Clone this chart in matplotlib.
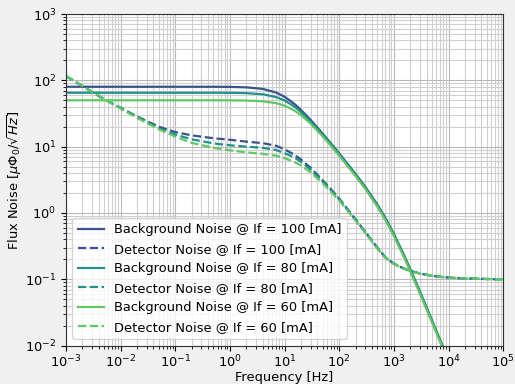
import matplotlib
matplotlib.use("Agg")
import matplotlib.pyplot as plt

plt.rcParams["font.size"] = 9.4

# frequency points [Hz]
freq = [1e-3, 2e-3, 5e-3, 1e-2, 2e-2, 5e-2, 0.1, 0.2, 0.5, 1, 2, 4, 7, 10, 15, 20, 30,
        50, 70, 100, 200, 300, 500, 700, 1e3, 1.5e3, 2e3, 3e3, 5e3, 7e3, 1e4, 2e4, 5e4, 1e5]

# background noise (solid)
bg_100 = [80, 80, 80, 80, 80, 80, 80, 80, 80, 79.6, 78.4, 74.3, 65.5, 56.6, 44.4, 35.8, 25.3,
          15.65, 11.27, 7.89, 3.86, 2.48, 1.337, 0.841, 0.484, 0.241, 0.142, 0.0655, 0.024, 0.0123, 0.0061, 0.0015, 0.00024, 0.00006]
bg_80 = [65, 65, 65, 65, 65, 65, 65, 65, 65, 64.8, 64.1, 61.6, 56.0, 49.8, 40.4, 33.2, 23.9,
         15.0, 10.85, 7.62, 3.72, 2.39, 1.29, 0.812, 0.467, 0.233, 0.137, 0.0632, 0.0232, 0.0119, 0.0059, 0.0015, 0.00024, 0.00006]
bg_60 = [50, 50, 50, 50, 50, 50, 50, 50, 50, 49.9, 49.55, 48.3, 45.25, 41.5, 35.2, 29.9, 22.2,
         14.25, 10.37, 7.31, 3.59, 2.31, 1.243, 0.782, 0.45, 0.224, 0.132, 0.0609, 0.0223, 0.0115, 0.0056, 0.0014, 0.00023, 0.00006]

# detector noise (dashed)
det_100 = [116, 82, 52, 38.5, 28.5, 20, 16.6, 14.8, 13.4, 12.7, 11.9, 11.3, 10.3, 9.1, 7.6, 6.4, 4.8,
           3.1, 2.3, 1.65, 0.8, 0.52, 0.3, 0.215, 0.172, 0.146, 0.134, 0.122, 0.113, 0.109, 0.106, 0.103, 0.101, 0.1]
det_80 = [116, 82, 52, 38, 27.8, 19, 15.2, 12.9, 11.2, 10.5, 10.0, 9.6, 8.9, 8.0, 6.9, 5.9, 4.5,
          2.95, 2.2, 1.6, 0.78, 0.51, 0.295, 0.213, 0.171, 0.146, 0.134, 0.122, 0.113, 0.109, 0.106, 0.103, 0.101, 0.1]
det_60 = [116, 82, 52, 37.5, 27.2, 18.3, 14.2, 11.4, 9.6, 8.8, 8.2, 7.8, 7.3, 6.7, 5.9, 5.2, 4.1,
          2.8, 2.1, 1.55, 0.76, 0.5, 0.29, 0.211, 0.17, 0.145, 0.133, 0.121, 0.113, 0.109, 0.106, 0.103, 0.101, 0.1]

currents = [100, 80, 60]
colors = ["#3b528b", "#21918c", "#5ec962"]

fig, ax = plt.subplots(figsize=(5.15, 3.84), dpi=100)
fig.patch.set_facecolor("#f0f0f0")
fig.subplots_adjust(left=0.128, right=0.977, top=0.9635, bottom=0.100)

for cur, col, bg, det in zip(currents, colors, [bg_100, bg_80, bg_60], [det_100, det_80, det_60]):
    ax.plot(freq, bg, color=col, lw=1.6, label="Background Noise @ If = %d [mA]" % cur)
    ax.plot(freq, det, color=col, lw=1.6, ls="--", label="Detector Noise @ If = %d [mA]" % cur)

ax.set_xscale("log")
ax.set_yscale("log")
ax.set_xlim(1e-3, 1e5)
ax.set_ylim(1e-2, 1e3)
ax.grid(True, which="major", color="#b8b8b8", lw=0.8)
ax.grid(True, which="minor", color="#cfcfcf", lw=0.8)
ax.set_axisbelow(True)
for s in ax.spines.values():
    s.set_color("#333333")
ax.tick_params(axis="x", which="major", pad=2.5)

ax.set_xlabel("Frequency [Hz]", labelpad=0)
ax.set_ylabel(r"Flux Noise [$\mu\Phi_0/\sqrt{Hz}$]")
ax.yaxis.set_label_coords(-0.096, 0.5)
ax.legend(loc="lower left")

fig.savefig("out.png", dpi=100, facecolor=fig.get_facecolor())
